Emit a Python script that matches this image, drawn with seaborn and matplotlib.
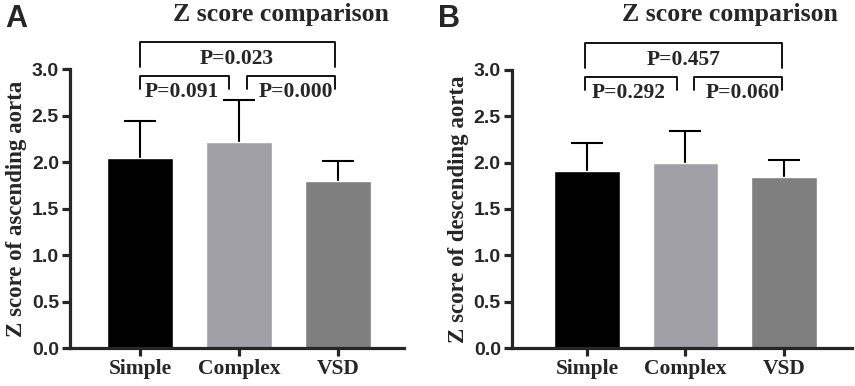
import matplotlib
matplotlib.use("Agg")
import matplotlib.pyplot as plt
import seaborn as sns
import numpy as np

# Data
groups = ["Simple", "Complex", "VSD"]
asc_mean = [2.04, 2.22, 1.80]
asc_sd = [0.40, 0.45, 0.21]
desc_mean = [1.91, 2.00, 1.85]
desc_sd = [0.30, 0.34, 0.18]
asc_p = ["P=0.091", "P=0.000", "P=0.023"]
desc_p = ["P=0.292", "P=0.060", "P=0.457"]
bar_colors = ["#000000", "#a0a0a6", "#7f7f7f"]

sns.set_style("ticks")
SERIF = "Liberation Serif"
SANS = "Liberation Sans"

fig = plt.figure(figsize=(8.55, 3.86), dpi=100)
ax1 = fig.add_axes([0.0819, 0.0984, 0.3906, 0.7228])
ax2 = fig.add_axes([0.5988, 0.0984, 0.3977, 0.7203])


def draw_panel(ax, means, sds, pvals, ylabel, xlim, top_x, low_left, low_right):
    sns.barplot(x=groups, y=means, hue=groups, palette=bar_colors, ax=ax,
                width=0.667, saturation=1, legend=False, errorbar=None)
    x = np.arange(len(groups))
    eb = ax.errorbar(x, means, yerr=[np.zeros(len(sds)), sds], fmt="none",
                     ecolor="black", elinewidth=1.5, capsize=11.5, capthick=1.5,
                     zorder=0.5)
    # one-sided (upper) error bars only
    eb[1][0].set_visible(False)
    ax.set_xlim(*xlim)
    ax.set_ylim(0, 3.0)
    ax.set_yticks(np.arange(0, 3.01, 0.5))
    ax.set_yticklabels([f"{v:.1f}" for v in np.arange(0, 3.01, 0.5)],
                       fontfamily=SANS, fontweight="bold", fontsize=14)
    ax.set_xticks(x)
    ax.set_xticklabels(groups, fontfamily=SERIF, fontweight="bold", fontsize=15.5)
    ax.set_ylabel(ylabel, fontfamily=SERIF, fontweight="bold", fontsize=16.5,
                  labelpad=3)
    ax.set_xlabel("")
    sns.despine(ax=ax)
    for s in ["left", "bottom"]:
        ax.spines[s].set_linewidth(2.3)
    ax.tick_params(width=2.3, length=6, direction="out", pad=2)

    # significance brackets
    kw = dict(color="black", lw=1.3, clip_on=False)
    ax.plot([top_x[0], top_x[0], top_x[1], top_x[1]], [3.02, 3.29, 3.29, 3.02], **kw)
    ax.plot([low_left[0], low_left[0], low_left[1], low_left[1]], [2.78, 2.92, 2.92, 2.78], **kw)
    ax.plot([low_right[0], low_right[0], low_right[1], low_right[1]], [2.78, 2.92, 2.92, 2.78], **kw)
    tkw = dict(ha="center", va="center", fontfamily=SERIF, fontweight="bold",
               fontsize=15.5, clip_on=False)
    ax.text(0.42, 2.75, pvals[0], **tkw)
    ax.text(1.58, 2.75, pvals[1], **tkw)
    ax.text(0.98, 3.11, pvals[2], **tkw)


draw_panel(ax1, asc_mean, asc_sd, asc_p, "Z score of ascending aorta",
           (-0.71, 2.67), (0, 1.97), (0, 0.90), (1.08, 1.97))
draw_panel(ax2, desc_mean, desc_sd, desc_p, "Z score of descending aorta",
           (-0.76, 2.69), (-0.02, 1.98), (-0.02, 0.91), (1.09, 1.98))

fig.text(0.006, 0.951, "A", fontfamily=SANS, fontweight="bold", fontsize=22, va="center")
fig.text(0.512, 0.951, "B", fontfamily=SANS, fontweight="bold", fontsize=22, va="center")
fig.text(0.329, 0.962, "Z score comparison", fontfamily=SERIF, fontweight="bold",
         fontsize=18.5, ha="center", va="center")
fig.text(0.854, 0.962, "Z score comparison", fontfamily=SERIF, fontweight="bold",
         fontsize=18.5, ha="center", va="center")

fig.savefig("out.png", dpi=100)
